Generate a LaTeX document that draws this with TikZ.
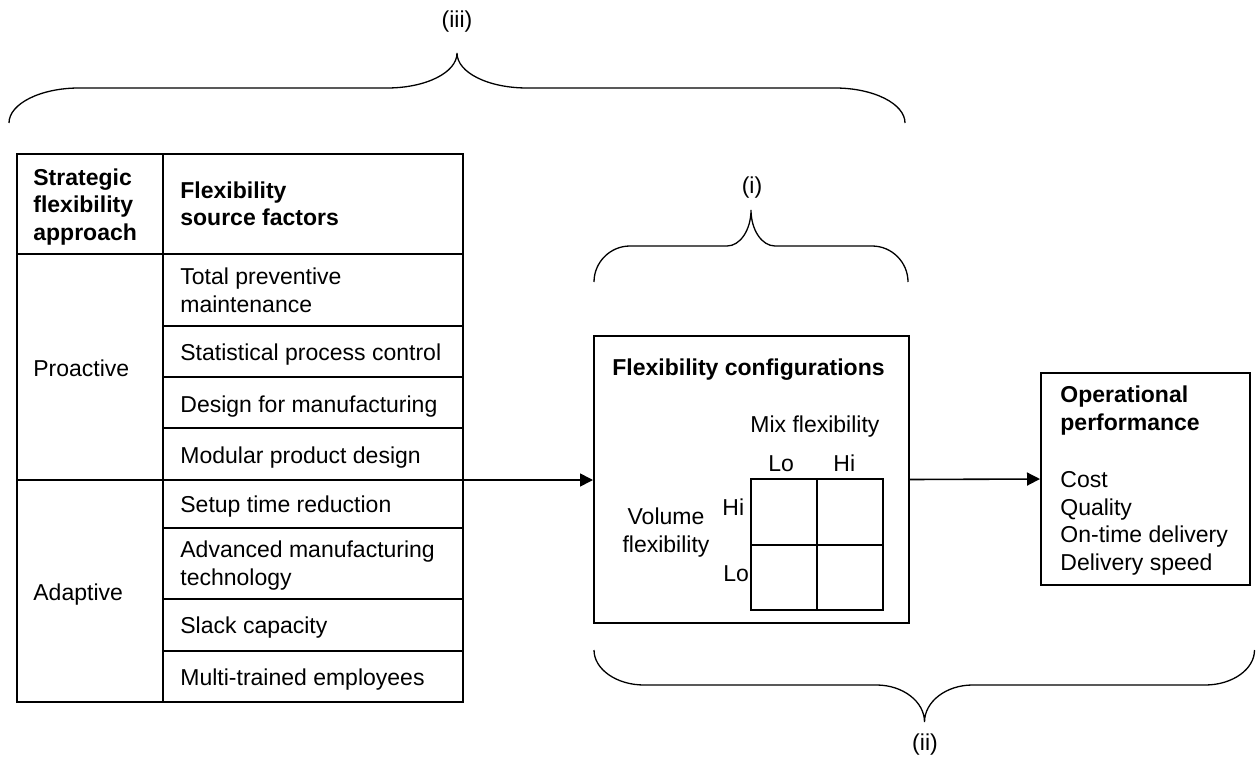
\documentclass[tikz,border=0pt]{standalone}
\usepackage{fontspec}
\setmainfont{Liberation Sans}
\usetikzlibrary{arrows.meta}

\tikzset{
  every node/.style={font=\fontsize{11.5}{13.75}\selectfont},
  frame/.style={draw, line width=1pt, inner sep=0pt},
  rule/.style={line width=0.7pt},
  % multi-line texts are placed by the baseline of their last line
  txt/.style={anchor=base west, inner sep=0pt, align=left},
  ctxt/.style={anchor=base, inner sep=0pt, align=center},
  bold/.style={font=\fontsize{11.5}{13.75}\selectfont\bfseries},
  bracepath/.style={line width=0.65pt},
  flow/.style={line width=0.8pt, -{Triangle[length=6.5pt,width=6.5pt]}},
}

\begin{document}
\begin{tikzpicture}[x=0.5pt, y=-0.5pt]
\useasboundingbox (0,0) rectangle (1256,759);

% ---- table of flexibility sources ----
\node[frame, minimum width=223pt, minimum height=274pt] (tbl) at (240,428) {};
\draw[rule] (163,154) -- (163,702);
\draw[rule] (17,254) -- (463,254);
\draw[rule] (17,480) -- (463,480);
\foreach \yy in {326,377,428,528,599,651}
  \draw[rule] (163,\yy) -- (463,\yy);

\node[txt, bold] (hA) at (33,240) {Strategic\\flexibility\\approach};
\node[txt, bold] (hB) at (180,226) {Flexibility\\source factors};
\node[txt] (pro) at (33,376) {Proactive};
\node[txt] (ada) at (33,600) {Adaptive};
\node[txt] (f1) at (180,312) {Total preventive\\maintenance};
\node[txt] (f2) at (180,360) {Statistical process control};
\node[txt] (f3) at (180,412) {Design for manufacturing};
\node[txt] (f4) at (180,463) {Modular product design};
\node[txt] (f5) at (180,512) {Setup time reduction};
\node[txt] (f6) at (180,585) {Advanced manufacturing\\technology};
\node[txt] (f7) at (180,633) {Slack capacity};
\node[txt] (f8) at (180,685) {Multi-trained employees};

\coordinate (split) at (463,480);

% ---- flexibility configurations ----
\node[frame, minimum width=157.5pt, minimum height=143.5pt] (cfg) at (751.5,479.5) {};
\node[txt, bold] (cfgT) at (612,375) {Flexibility configurations};
\node[txt] (mix) at (750,432) {Mix flexibility};
\node[txt] (mLo) at (768,471) {Lo};
\node[txt] (mHi) at (833,471) {Hi};
\node[txt] (vHi) at (722,515) {Hi};
\node[txt] (vLo) at (723,581) {Lo};
\node[ctxt] (vol) at (666,552) {Volume\\flexibility};
\node[frame, minimum width=66pt, minimum height=65.5pt] (grid) at (817,544.5) {};
\draw[line width=1pt] (grid.north) -- (grid.south);
\draw[line width=1pt] (grid.west) -- (grid.east);

% ---- operational performance ----
\node[frame, minimum width=104.5pt, minimum height=106pt] (perf) at (1145.5,479) {};
\node[txt, bold] (perfT) at (1060,430) {Operational\\performance};
\node[txt] (perfL) at (1060,570) {Cost\\Quality\\On-time delivery\\Delivery speed};

% ---- connectors ----
\draw[flow] (split) -- (split -| cfg.west);
\draw[flow] (cfg.east) -- (perf.west);

% ---- braces ----
\draw[bracepath] (9,123) .. controls (9,103.75) and (40.5,88) .. (79,88) -- (387,88)
  .. controls (425.5,88) and (457,72.75) .. (457,53)
  .. controls (457,72.75) and (488.5,88) .. (527,88) -- (835,88)
  .. controls (873.5,88) and (905,103.75) .. (905,123);
\node (l3) at (457,22) {(iii)};

\draw[bracepath] (594,282) .. controls (594,262.2) and (610.2,246) .. (630,246) -- (727,246)
  .. controls (740.2,246) and (751,229.8) .. (751,210)
  .. controls (751,229.8) and (761.8,246) .. (775,246) -- (872,246)
  .. controls (891.8,246) and (908,262.2) .. (908,282);
\node (l1) at (752,188) {(i)};

\draw[bracepath] (594,650) .. controls (594,669.25) and (616.5,685) .. (644,685) -- (876.5,685)
  .. controls (902.9,685) and (924.5,701.65) .. (924.5,722)
  .. controls (924.5,701.65) and (946.1,685) .. (972.5,685) -- (1205,685)
  .. controls (1232.5,685) and (1254.5,669.25) .. (1254.5,650);
\node (l2) at (925,745) {(ii)};
\end{tikzpicture}
\end{document}
